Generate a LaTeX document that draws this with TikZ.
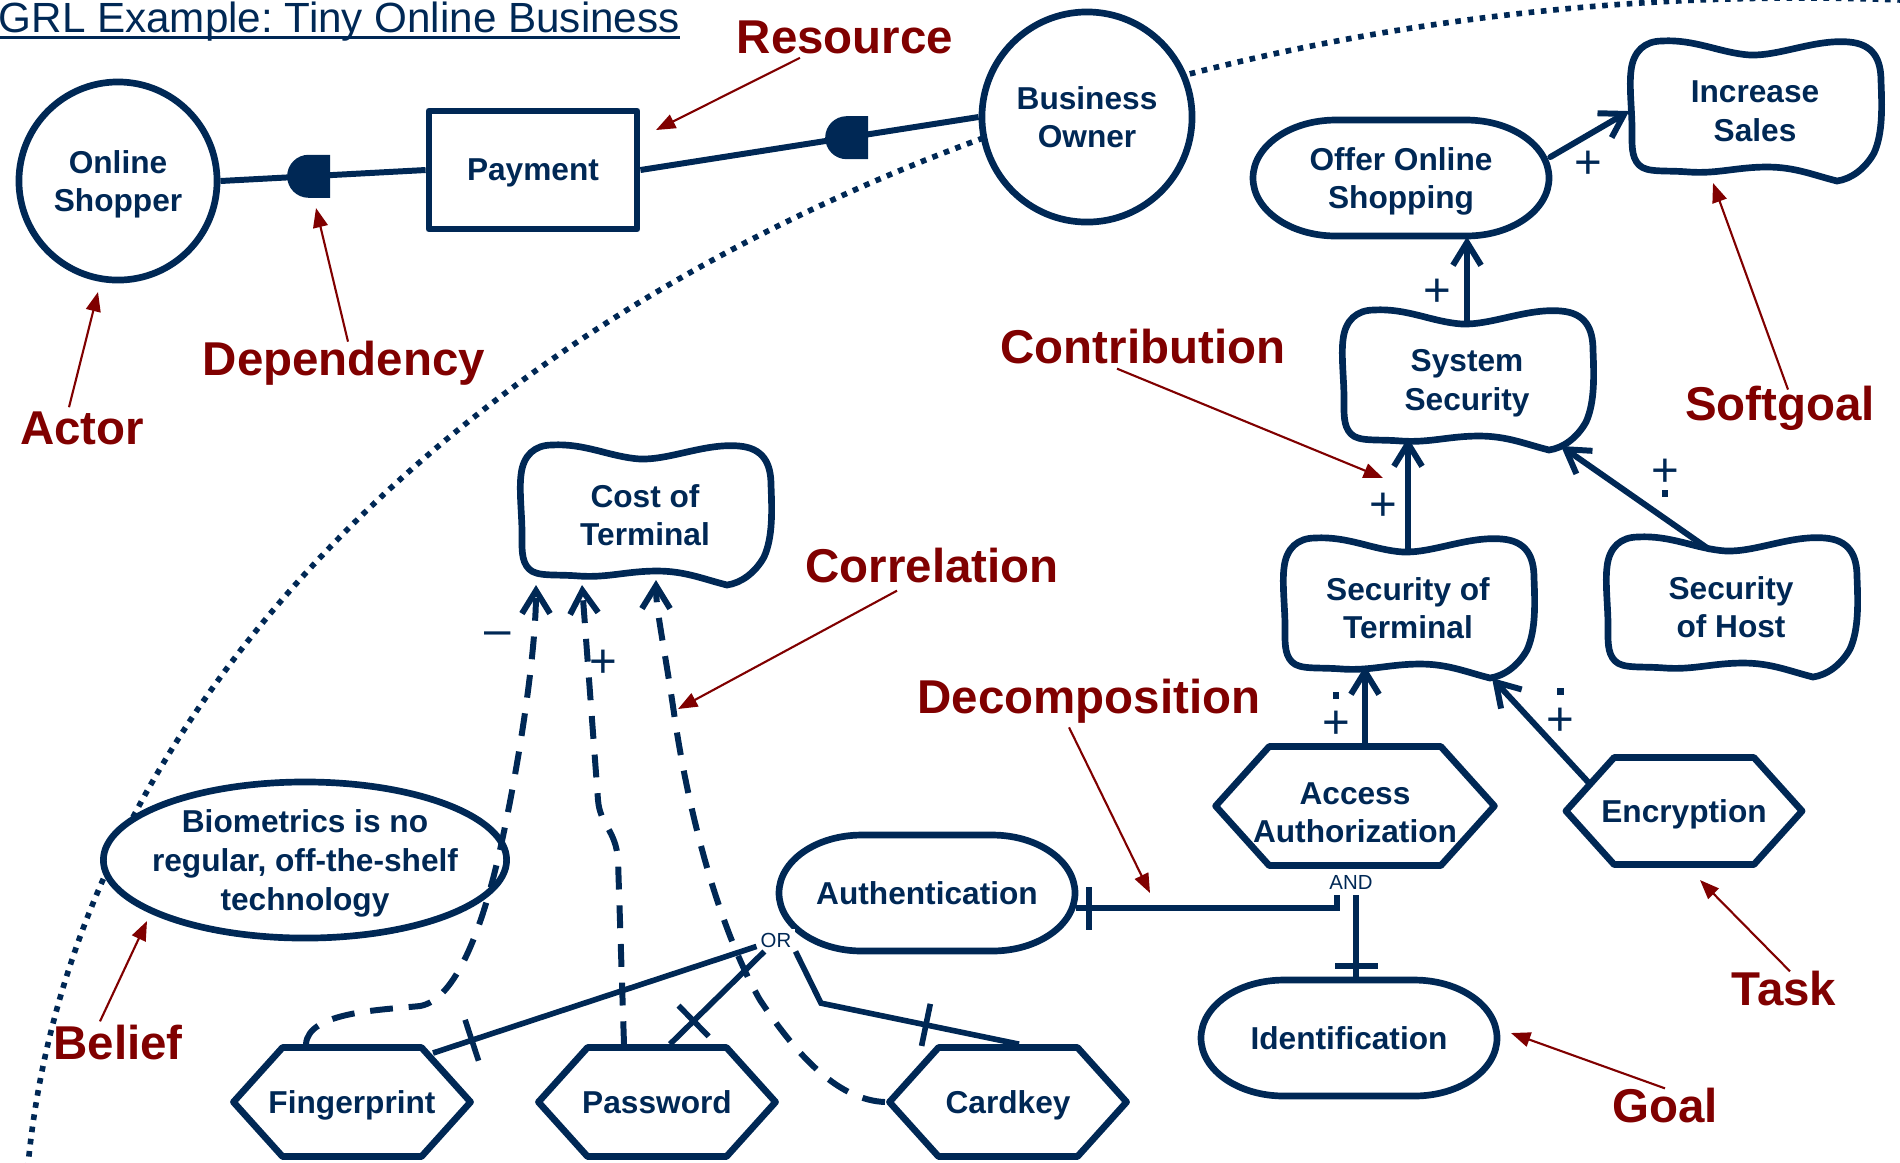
\documentclass[tikz,border=0pt]{standalone}
\usepackage{fontspec}
\setmainfont{Liberation Sans}
\usetikzlibrary{shapes.geometric,shapes.misc,shapes.symbols,arrows.meta}

\definecolor{grlnavy}{RGB}{0,40,85}
\definecolor{grlred}{RGB}{128,0,0}

\frenchspacing
\newcommand\titleline[1]{\setbox0\hbox{#1}\rlap{\rule[-2.1pt]{\wd0}{0.9pt}}\box0}

% wavy outline of a softgoal, round the named node
\newcommand\softgoalshape[1]{%
  \draw[shapeline,shift={(#1.center)}] (-93,-70)
    .. controls (-60,-72) and (-35,-58) .. (-5,-56)
    .. controls (25,-55) and (60,-72) .. (94,-69)
    .. controls (118,-67) and (126,-52) .. (126,-30)
    .. controls (127,-5) and (128,22) .. (119,42)
    .. controls (110,58) and (96,68) .. (82,70)
    .. controls (58,64) and (40,56) .. (12,56)
    .. controls (-18,56) and (-38,63) .. (-66,61)
    .. controls (-90,59) and (-108,62) .. (-116,54)
    .. controls (-124,46) and (-123,33) .. (-123,18)
    .. controls (-123,0) and (-126,-25) .. (-124,-40)
    .. controls (-122,-60) and (-110,-70) .. (-93,-70) -- cycle;}
% rounded outline of a goal
\newcommand\goalshape[1]{%
  \draw[shapeline,shift={(#1.center)}] (-65,-58) -- (65,-58)
    .. controls (111,-58) and (148,-32) .. (148,0)
    .. controls (148,32) and (111,58) .. (65,58) -- (-65,58)
    .. controls (-111,58) and (-148,32) .. (-148,0)
    .. controls (-148,-32) and (-111,-58) .. (-65,-58) -- cycle;}

\tikzset{
  element/.style={font=\bfseries\fontsize{9}{11}\selectfont,text=grlnavy,align=center,inner sep=0pt,text depth=0pt},
  shapeline/.style={draw=grlnavy,line width=1.9pt,line join=round},
  actor/.style={element,shapeline,circle,fill=white},
  resource/.style={element,shapeline,rectangle,fill=white,minimum width=2.08cm,minimum height=1.18cm},
  task/.style={element,shapeline,fill=white,signal,signal to=west and east,signal pointer angle=96,inner xsep=-4.6pt,minimum width=2.37cm,minimum height=1.09cm},
  belief/.style={element,shapeline,ellipse,fill=white,inner xsep=-5pt,minimum width=4.03cm,minimum height=1.56cm},
  goal/.style={element,minimum width=2.97cm,minimum height=1.16cm},
  softgoal/.style={element,minimum width=2.5cm,minimum height=1.14cm},
  deplink/.style={draw=grlnavy,line width=1.7pt},
  depmark/.style={rounded rectangle,rounded rectangle east arc=none,fill=grlnavy,inner sep=0pt,minimum width=0.41cm,minimum height=0.43cm},
  contrib/.style={draw=grlnavy,line width=1.7pt,line cap=round,-{Straight Barb[length=6.5pt,width=8pt]}},
  correl/.style={contrib,line cap=butt,dash pattern=on 6.5pt off 4.5pt},
  decomp/.style={draw=grlnavy,line width=1.6pt},
  bartick/.style={fill=grlnavy,inner sep=0pt,minimum width=1.6pt,minimum height=0.43cm,sloped},
  signlbl/.style={font=\fontsize{13.5}{15}\selectfont,text=grlnavy,inner sep=0pt},
  dotmark/.style={fill=grlnavy,inner sep=0pt,minimum size=0.065cm},
  linklbl/.style={font=\fontsize{5.8}{7}\selectfont,text=grlnavy,inner sep=1pt},
  boundary/.style={draw=grlnavy,line width=1.6pt,dash pattern=on 1.6pt off 1.9pt},
  redtag/.style={font=\bfseries\fontsize{13.5}{16}\selectfont,text=grlred,inner sep=1pt},
  redarrow/.style={draw=grlred,line width=0.6pt,-{Triangle[length=5.5pt,width=4.2pt]}},
}

\begin{document}
\begin{tikzpicture}[x=0.01cm,y=-0.01cm]
  % \draw[help lines](0,0) grid (1900,1162);
  \useasboundingbox (0,0) rectangle (1900,1162);

  \begin{scope}
    \clip (0,0) rectangle (1900,1162);
    \draw[boundary] (1800,1250) ellipse [x radius=1776, y radius=1252];
  \end{scope}

  \draw (-2,32) node[anchor=base west,inner sep=0pt,text=grlnavy,font=\fontsize{12}{14}\selectfont] (title) {\titleline{GRL Example: Tiny Online Business}};

  \draw (118,181) node[actor,minimum size=1.98cm] (shopper) {Online\\Shopper};
  \draw (533,170) node[resource] (payment) {Payment};
  \draw (1087,117) node[actor,minimum size=2.1cm] (owner) {Business\\Owner};

  \draw (1401,178) node[goal] (offer) {Offer Online\\Shopping};
  \draw (927,893) node[goal] (auth) {Authentication};
  \draw (1349,1038) node[goal] (ident) {Identification};
  \goalshape{offer}
  \goalshape{auth}
  \goalshape{ident}

  \draw (1755,111) node[softgoal] (sales) {Increase\\Sales};
  \draw (1467,380) node[softgoal] (syssec) {System\\Security};
  \draw (1408,608) node[softgoal] (termsec) {Security of\\Terminal};
  \draw (1731,607) node[softgoal] (hostsec) {Security\\of Host};
  \draw (645,515) node[softgoal] (cost) {Cost of\\Terminal};
  \softgoalshape{sales}
  \softgoalshape{syssec}
  \softgoalshape{termsec}
  \softgoalshape{hostsec}
  \softgoalshape{cost}

  \draw (1355,806) node[task,minimum width=2.73cm,minimum height=1.19cm,text height=20.9pt] (access) {Access\\Authorization};
  \draw (1684,811) node[task,minimum width=2.36cm,minimum height=1.07cm] (crypt) {Encryption};
  \draw (352,1102) node[task] (finger) {Fingerprint};
  \draw (657,1102) node[task] (passwd) {Password};
  \draw (1008,1102) node[task] (cardkey) {Cardkey};

  \draw (305,860) node[belief] (biometric) {Biometrics is no\\regular, off-the-shelf\\technology};

  % dependencies
  \draw[deplink] (shopper.east) -- (payment.west) node[depmark,pos=0.43] {};
  \draw[deplink] (payment.east) -- (owner.west) node[depmark,pos=0.61] {};

  % contributions
  \draw[contrib] (offer.8) -- (sales.west) node[signlbl,midway,shift={(-1,31)}] {+};
  \draw[contrib] (syssec.north) -- (syssec.north |- offer.south) node[signlbl,midway,shift={(-30,13)}] {+};
  \draw[contrib] (termsec.north) -- (termsec.north |- syssec.south) node[signlbl,midway,shift={(-25,13)}] {+};
  \draw[contrib] ([shift={(-22,0)}]hostsec.north) -- ([shift={(94,66)}]syssec.center)
    node[signlbl,midway,shift={(30,-25)}] {+} node[dotmark,midway,shift={(30,-4)}] {};
  \draw[contrib] ([shift={(10,0)}]access.north) -- ([shift={(10,0)}]access.north |- termsec.south)
    node[signlbl,midway,shift={(-29,20)}] {+} node[dotmark,midway,shift={(-29,-9)}] {};
  \draw[contrib] ([shift={(-95,-28)}]crypt.center) -- ([shift={(84,70)}]termsec.center)
    node[signlbl,midway,shift={(20,-9)}] {+} node[dotmark,midway,shift={(20,-39)}] {};

  % correlations
  \draw[correl] ([shift={(-46,0)}]finger.north) .. controls (308,1012) and (380,1010) .. (420,1006)
    .. controls (455,1000) and (482,930) .. (500,850)
    .. controls (520,760) and (536,650) .. ([shift={(-109,70)}]cost.center) node[signlbl,pos=0.75,shift={(-35,-3)}] {--};
  \draw[correl] ([shift={(-33,0)}]passwd.north) -- (618,860) .. controls (616,830) and (600,825) .. (598,800)
    -- ([shift={(-63,70)}]cost.center) node[signlbl,pos=0.64,shift={(16,1)}] {+};
  \draw[correl] (cardkey.west) .. controls (840,1100) and (800,1060) .. (760,1000)
    .. controls (720,930) and (690,820) .. (675,720)
    .. controls (665,650) and (656,610) .. ([shift={(11,65)}]cost.center);

  % decompositions
  \draw (1351,882) node[linklbl] (andlbl) {AND};
  \draw[decomp] ([shift={(0,15)}]auth.east) -| ([shift={(-18,26)}]access.south) node[bartick,pos=0.024] {};
  \draw[decomp] ([shift={(7,0)}]ident.north) -- ([shift={(1,26)}]access.south) node[bartick,pos=0.16] {};
  \draw (776,940) node[linklbl,fill=white] (orlbl) {OR};
  \draw[decomp] ([shift={(81,-49)}]finger.center) -- (orlbl) node[bartick,pos=0.12] {};
  \draw[decomp] ([shift={(13,0)}]passwd.north) -- (orlbl) node[bartick,pos=0.25] {};
  \draw[decomp] ([shift={(11,0)}]cardkey.north) -- ++(-198,-41) node[bartick,pos=0.47] {} -- (orlbl.south east);

  % legend of element kinds
  \draw (845,37) node[redtag] (restag) {Resource};
  \draw (344,363) node[redtag] (deptag) {Dependency};
  \draw (82,428) node[redtag] (actortag) {Actor};
  \draw (118,1043) node[redtag] (belieftag) {Belief};
  \draw (1143,347) node[redtag] (contribtag) {Contribution};
  \draw (1780,408) node[redtag] (softtag) {Softgoal};
  \draw (932,566) node[redtag] (corrtag) {Correlation};
  \draw (1089,701) node[redtag] (decomptag) {Decomposition};
  \draw (1784,988) node[redtag] (tasktag) {Task};
  \draw (1665,1105) node[redtag] (goaltag) {Goal};

  \coordinate (restip) at (656,130);
  \coordinate (deptip) at (316,208);
  \coordinate (actortip) at (98,292);
  \coordinate (belieftip) at (147,921);
  \coordinate (contribtip) at (1383,478);
  \coordinate (softtip) at (1713,183);
  \coordinate (corrtip) at (678,709);
  \coordinate (decomptip) at (1150,893);
  \coordinate (tasktip) at (1700,880);
  \coordinate (goaltip) at (1511,1033);

  \draw[redarrow] ([shift={(-45,0)}]restag.south) -- (restip);
  \draw[redarrow] ([shift={(4,5)}]deptag.north) -- (deptip);
  \draw[redarrow] ([shift={(-13,0)}]actortag.north) -- (actortip);
  \draw[redarrow] ([shift={(-18,0)}]belieftag.north) -- (belieftip);
  \draw[redarrow] ([shift={(-26,0)}]contribtag.south) -- (contribtip);
  \draw[redarrow] ([shift={(8,8)}]softtag.north) -- (softtip);
  \draw[redarrow] ([shift={(-35,3)}]corrtag.south) -- (corrtip);
  \draw[redarrow] ([shift={(-20,0)}]decomptag.south) -- (decomptip);
  \draw[redarrow] ([shift={(6,5)}]tasktag.north) -- (tasktip);
  \draw[redarrow] ([shift={(0,5)}]goaltag.north) -- (goaltip);
\end{tikzpicture}
\end{document}
